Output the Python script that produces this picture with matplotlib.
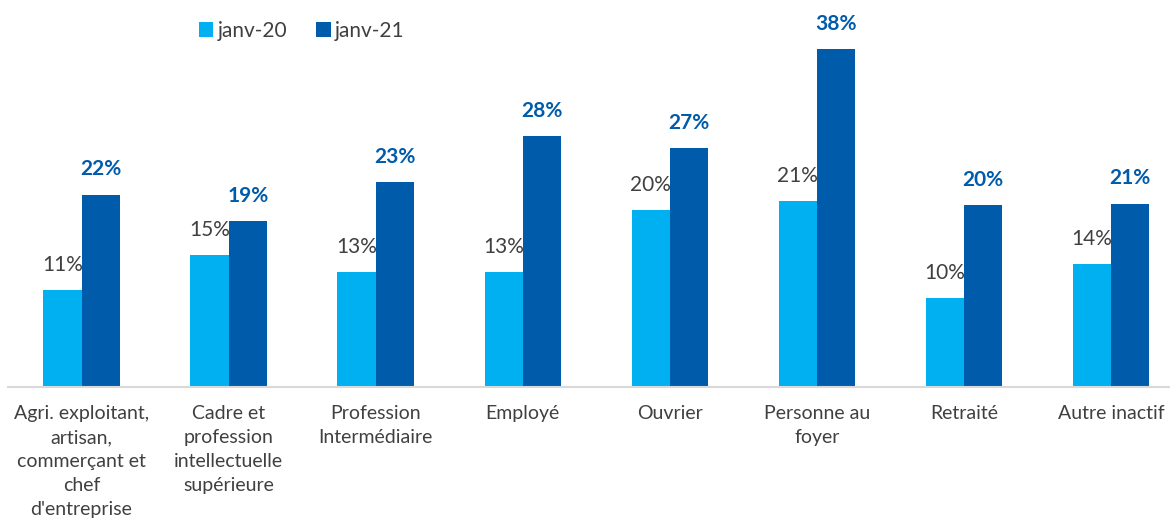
import matplotlib
matplotlib.use("Agg")
import matplotlib.pyplot as plt
import numpy as np

categories = [
    "Agri. exploitant,\nartisan,\ncommerçant et\nchef\nd'entreprise",
    "Cadre et\nprofession\nintellectuelle\nsupérieure",
    "Profession\nIntermédiaire",
    "Employé",
    "Ouvrier",
    "Personne au\nfoyer",
    "Retraité",
    "Autre inactif",
]
series_names = ["janv-20", "janv-21"]
janv20 = [10.9, 14.8, 12.9, 12.9, 19.9, 20.9, 10.0, 13.8]
janv21 = [21.6, 18.6, 23.0, 28.2, 26.8, 38.0, 20.4, 20.6]

light = "#00B0F0"
dark = "#005BAA"
grey = "#404040"
plt.rcParams["font.family"] = ["Lato", "DejaVu Sans"]

fig = plt.figure(figsize=(11.7, 5.28), dpi=100)
ax = fig.add_axes([8 / 1170, 1 - 387 / 528, 1 - 8 / 1170, 356 / 528])

x = np.arange(len(categories))
w = 0.26
b1 = ax.bar(x - w / 2, janv20, w, color=light, label=series_names[0], zorder=2)
b2 = ax.bar(x + w / 2, janv21, w, color=dark, label=series_names[1], zorder=2)

for rect, v in zip(b1, janv20):
    ax.annotate(f"{v:.0f}%", (rect.get_x() + rect.get_width() / 2, v),
                xytext=(0, 11), textcoords="offset points", ha="center", va="bottom",
                fontsize=15, color=grey)
for rect, v in zip(b2, janv21):
    ax.annotate(f"{v:.0f}%", (rect.get_x() + rect.get_width() / 2, v),
                xytext=(0, 11), textcoords="offset points", ha="center", va="bottom",
                fontsize=15, color=dark, fontweight="bold")

ax.set_xlim(-0.5, 7.4)
ax.set_ylim(0, 40)
ax.set_xticks(x)
ax.set_xticklabels(categories, fontsize=14, color=grey, linespacing=1.5)
ax.tick_params(axis="x", length=0, pad=13)
ax.set_yticks([])
for s in ["top", "right", "left"]:
    ax.spines[s].set_visible(False)
ax.spines["bottom"].set_color("#D9D9D9")
ax.spines["bottom"].set_linewidth(1.5)

ax.legend(loc="center left", bbox_to_anchor=(0.148, 1.0), ncol=2, frameon=False,
          fontsize=15, handlelength=0.7, handleheight=0.7, handletextpad=0.2,
          columnspacing=1.4, labelcolor=grey)

fig.savefig("out.png", dpi=100)
